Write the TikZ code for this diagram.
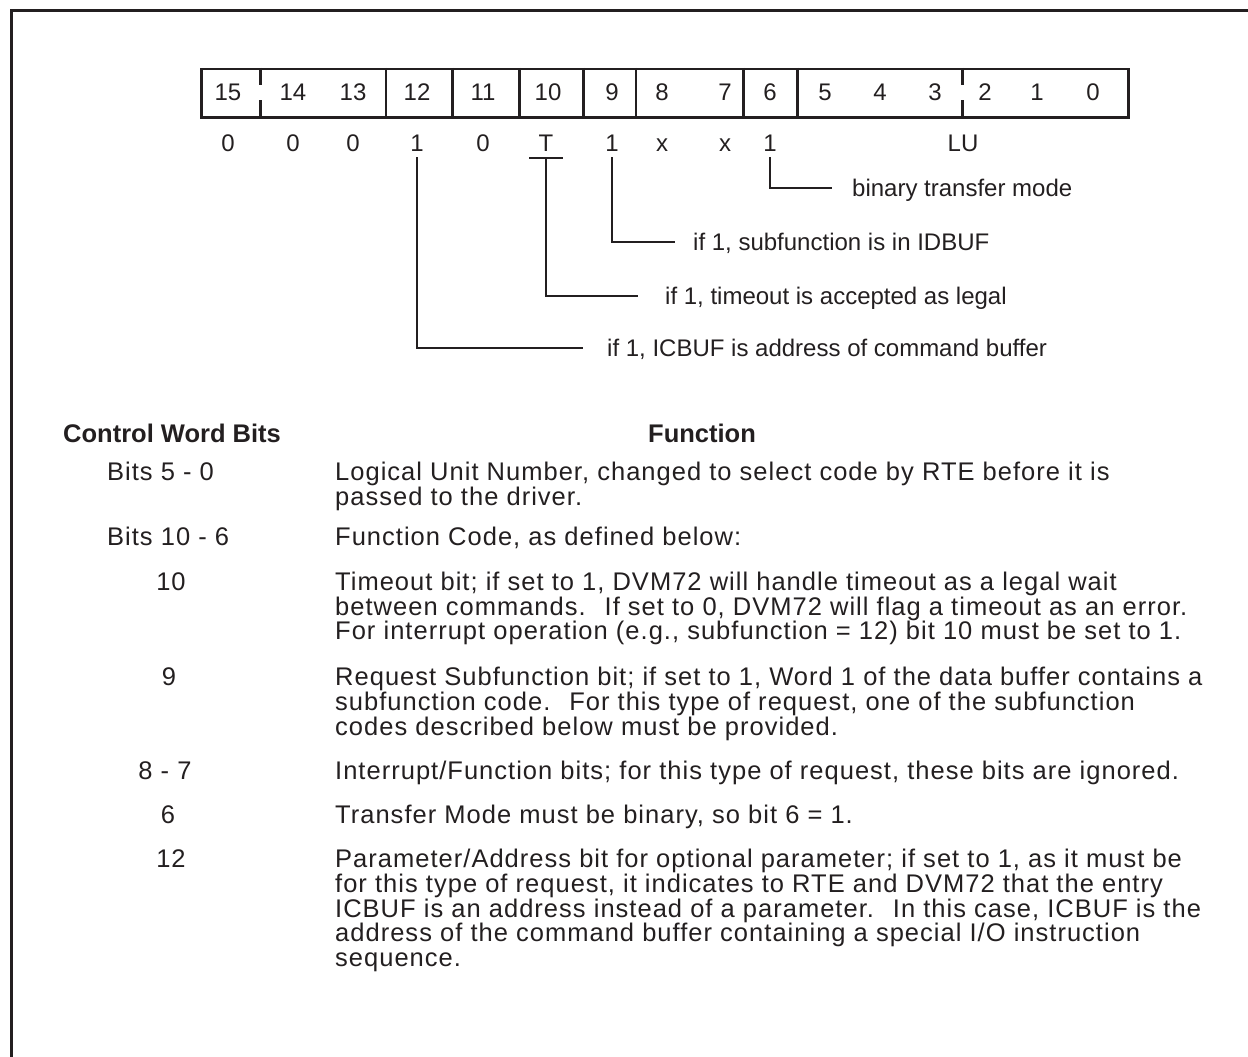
\documentclass[tikz,border=0pt]{standalone}
\usepackage{fontspec}
\setmainfont{Liberation Sans}
\newfontfamily\bodyfont[LetterSpace=4]{Liberation Sans}
\definecolor{ink}{HTML}{231F20}
\begin{document}
\begin{tikzpicture}[x=1pt,y=-1pt,
  every node/.style={inner sep=0pt, text=ink},
  frameline/.style={draw=ink, line width=3pt},
  regline/.style={draw=ink, line width=2.5pt},
  lead/.style={draw=ink, line width=2.4pt},
  bitnum/.style={font=\fontsize{24}{24}\selectfont, anchor=base},
  lbl/.style={font=\fontsize{24}{24}\selectfont, anchor=west, text height=17pt, text depth=0pt},
  body/.style={font=\bodyfont\fontsize{25.5}{25}\selectfont, anchor=base west},
  colnum/.style={font=\bodyfont\fontsize{25.5}{25}\selectfont, anchor=base},
  head/.style={font=\fontsize{25.5}{25}\selectfont\bfseries, anchor=base west}]
\useasboundingbox (0,0) rectangle (1248,1057);
% frame (only top and left edges visible)
\draw[frameline] (1248,11) -- (11,11) -- (11,1057);
% register box
\node[regline, draw, anchor=north west, minimum width=927pt, minimum height=48pt] (reg) at (200,68) {};
\foreach \xx in {386,452.7,519.3,583.3,636,743.3,797.3}
  \draw[regline] (\xx,68) -- (\xx,116);
\foreach \xx in {260.7,962.7}{
  \draw[regline] (\xx,68) -- (\xx,85);
  \draw[regline] (\xx,100) -- (\xx,116);}
% bit numbers
\foreach \n/\xx in {15/228,14/293,13/353,12/417,11/483,10/548,9/612,8/662,7/725,6/770,5/825,4/880,3/935,2/985,1/1037,0/1093}
  \node[bitnum] (b\n) at (\xx,100) {\n};
% values
\node[bitnum] (v15) at (228,151) {0};
\node[bitnum] (v14) at (293,151) {0};
\node[bitnum] (v13) at (353,151) {0};
\node[bitnum] (v12) at (417,151) {1};
\node[bitnum] (v11) at (483,151) {0};
\node[bitnum] (vT)  at (546,151) {T};
\node[bitnum] (v9)  at (612,151) {1};
\node[bitnum] (v8)  at (662,151) {x};
\node[bitnum] (v7)  at (725,151) {x};
\node[bitnum] (v6)  at (770,151) {1};
\node[bitnum] (vLU) at (963,151) {LU};
% labels
\node[lbl] (t6)  at (852,188) {binary transfer mode};
\node[lbl] (t9)  at (693,241.7) {if 1, subfunction is in IDBUF};
\node[lbl] (tT)  at (665,295.7) {if 1, timeout is accepted as legal};
\node[lbl] (t12) at (607,347.7) {if 1, ICBUF is address of command buffer};
% leaders
\coordinate (tbar) at ([yshift=-7pt]vT.south);
\draw[lead] ([xshift=-17pt]tbar) -- ([xshift=17pt]tbar);
\draw[lead] (tbar) |- ([xshift=-27pt]tT.west);
\draw[lead] ([yshift=-6pt]v12.south) |- ([xshift=-24pt]t12.west);
\draw[lead] ([yshift=-6pt]v9.south) |- ([xshift=-18pt]t9.west);
\draw[lead] ([yshift=-6pt]v6.south) |- ([xshift=-20pt]t6.west);
% table headers
\node[head] (hcol) at (63,442.5) {Control Word Bits};
\node[head] (hfun) at (648,442.5) {Function};
% rows
\node[body] (c1) at (107,480) {Bits 5 - 0};
\node[body] (r1a) at (335,480) {Logical Unit Number, changed to select code by RTE before it is};
\node[body] (r1b) at (335,505) {passed to the driver.};
\node[body] (c2) at (107,545) {Bits 10 - 6};
\node[body] (r2a) at (335,545) {Function Code, as defined below:};
\node[colnum] (c3) at (171,590) {10};
\node[body] (r3a) at (335,590) {Timeout bit; if set to 1, DVM72 will handle timeout as a legal wait};
\node[body] (r3b) at (335,615) {between commands.~ If set to 0, DVM72 will flag a timeout as an error.};
\node[body] (r3c) at (335,639) {For interrupt operation (e.g., subfunction = 12) bit 10 must be set to 1.};
\node[colnum] (c4) at (169,685) {9};
\node[body] (r4a) at (335,685) {Request Subfunction bit; if set to 1, Word 1 of the data buffer contains a};
\node[body] (r4b) at (335,710) {subfunction code.~ For this type of request, one of the subfunction};
\node[body] (r4c) at (335,735) {codes described below must be provided.};
\node[colnum] (c5) at (165,779) {8 - 7};
\node[body] (r5a) at (335,779) {Interrupt/Function bits; for this type of request, these bits are ignored.};
\node[colnum] (c6) at (168,823) {6};
\node[body] (r6a) at (335,823) {Transfer Mode must be binary, so bit 6 = 1.};
\node[colnum] (c7) at (171,867) {12};
\node[body] (r7a) at (335,867) {Parameter/Address bit for optional parameter; if set to 1, as it must be};
\node[body] (r7b) at (335,892) {for this type of request, it indicates to RTE and DVM72 that the entry};
\node[body] (r7c) at (335,917) {ICBUF is an address instead of a parameter.~ In this case, ICBUF is the};
\node[body] (r7d) at (335,941) {address of the command buffer containing a special I/O instruction};
\node[body] (r7e) at (335,966) {sequence.};
\end{tikzpicture}
\end{document}
